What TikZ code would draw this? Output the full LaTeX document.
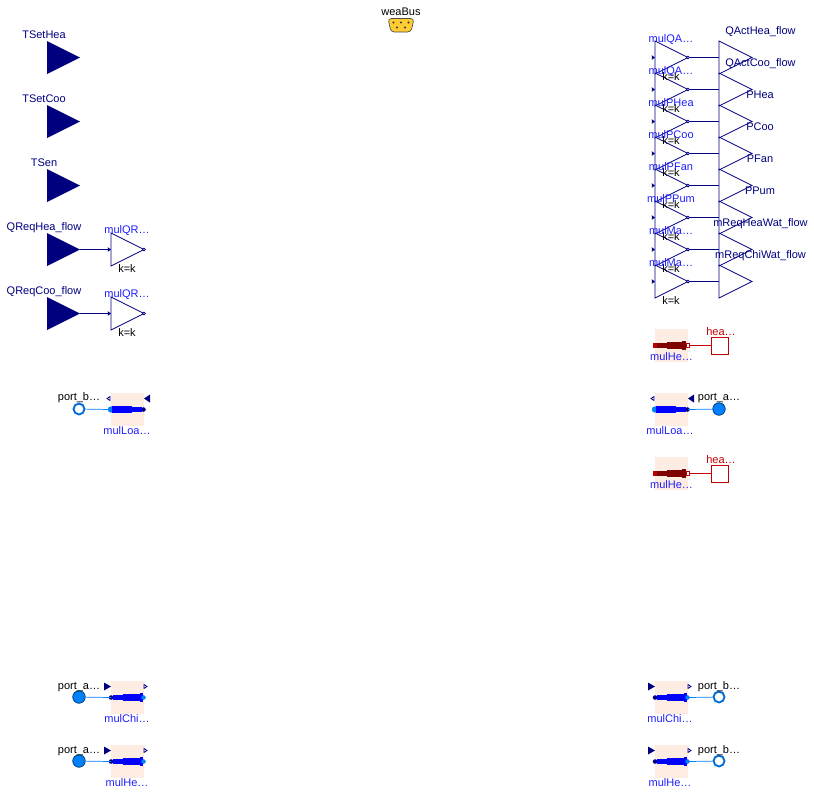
\documentclass[tikz,border=0pt]{standalone}
\usepackage{fontspec}
\setmainfont{Liberation Sans}
\usetikzlibrary{shapes}

\definecolor{sigNavy}{RGB}{0,0,127}
\definecolor{lblBlue}{RGB}{30,30,255}
\definecolor{fluidBlue}{RGB}{0,127,255}
\definecolor{tubeBlue}{RGB}{0,0,255}
\definecolor{heatRed}{RGB}{191,0,0}
\definecolor{tubeRed}{RGB}{127,0,0}
\definecolor{peach}{RGB}{253,236,226}
\definecolor{busYellow}{RGB}{255,204,51}

\tikzset{
  txt/.style={font=\fontsize{8.25}{10}\selectfont, inner sep=0pt, anchor=base},
  sigtxt/.style={txt, text=sigNavy},
  multxt/.style={txt, text=lblBlue},
  heatxt/.style={txt, text=heatRed},
  sigline/.style={draw=sigNavy, line width=0.55pt},
  tri/.style={isosceles triangle, isosceles triangle stretches, inner sep=0pt, outer sep=0pt, minimum width=24.75pt, minimum height=24.75pt, anchor=west},
  conin/.style={tri, fill=sigNavy},
  gain/.style={tri, sigline},
  intip/.style={isosceles triangle, isosceles triangle stretches, inner sep=0pt, outer sep=0pt, minimum width=3.4pt, minimum height=2.4pt, fill=sigNavy, anchor=east},
  outtip/.style={circle, sigline, fill=white, inner sep=0pt, minimum size=2.2pt, anchor=center},
  porta/.style={circle, draw=black!60!fluidBlue, line width=0.5pt, fill=fluidBlue, inner sep=0pt, minimum size=9.4pt},
  portb/.style={circle, draw=fluidBlue!85!black, line width=1.4pt, fill=white, inner sep=0pt, minimum size=8.2pt},
  heatport/.style={rectangle, draw=heatRed, line width=0.55pt, fill=white, inner sep=0pt, minimum size=12.75pt},
  fluidline/.style={draw=fluidBlue, line width=0.55pt},
  heatline/.style={draw=heatRed, line width=0.55pt},
  pics/tubeLoa/.style={code={
    \fill[peach] (0,-16.5) rectangle (33,16.5);
    \fill[fluidBlue] (0,0) circle[radius=2.4pt];
    \fill[sigNavy] (32.5,0) circle[radius=1.7pt];
    \fill[tubeBlue] (1,-3.5) rectangle (21,3.5);
    \fill[tubeBlue] (21,-2.2) rectangle (30.5,2.2);
    \draw[sigline, fill=white] (-4,-11) -- (-1,-9) -- (-1,-13) -- cycle;
    \fill[sigNavy] (33,-11) -- (39,-15) -- (39,-7) -- cycle;
    \coordinate (-a) at (0,0);
    \coordinate (-b) at (33,0);
  }},
  pics/tubeHex/.style={code={
    \fill[peach] (0,-16.5) rectangle (33,16.5);
    \fill[sigNavy] (0,0) circle[radius=1.7pt];
    \fill[tubeBlue] (2,-2.2) rectangle (12,2.2);
    \fill[tubeBlue] (12,-3.2) rectangle (29,3.2);
    \fill[tubeBlue] (29,-4.5) rectangle (32,4.5);
    \fill[fluidBlue] (32.5,0) circle[radius=1.7pt];
    \fill[sigNavy] (-7,-15) -- (0,-11) -- (-7,-7) -- cycle;
    \draw[sigline, fill=white] (36,-11) -- (33,-9) -- (33,-13) -- cycle;
    \coordinate (-a) at (0,0);
    \coordinate (-b) at (33,0);
  }},
  pics/tubeHeat/.style={code={
    \fill[peach] (0,-16.5) rectangle (33,16.5);
    \fill[heatRed] (-2,-2.5) rectangle (2,2.5);
    \fill[tubeRed] (2,-2.1) rectangle (12,2.1);
    \fill[tubeRed] (12,-3.2) rectangle (27,3.2);
    \fill[tubeRed] (27,-4.5) rectangle (31,4.5);
    \draw[heatRed, fill=white, line width=0.55pt] (31,-1.8) rectangle (34.5,1.8);
    \coordinate (-b) at (34.5,0);
  }},
}

\begin{document}
\begin{tikzpicture}[x=0.75pt, y=-0.75pt]
      \useasboundingbox (0,0) rectangle (814,793);

      % Bus
      \node[txt] (weaBusTxt) at (401,15) {weaBus};
      \draw[black!70, fill=busYellow, line width=0.5pt, rounded corners=2.5pt] (388,18.5) -- (414,18.5) -- (411,32) -- (391,32) -- cycle;
      \fill[black!80] (393.5,22.5) circle[radius=0.85pt] (401,22.5) circle[radius=0.85pt] (408.5,22.5) circle[radius=0.85pt] (397,27.5) circle[radius=0.85pt] (405,27.5) circle[radius=0.85pt];

      % Inputs
      \node[conin] (TSetHea) at (47,57.5) {};
      \node[conin] (TSetCoo) at (47,121.5) {};
      \node[conin] (TSen) at (47,185.5) {};
      \node[conin] (QReqHea) at (47,249.5) {};
      \node[conin] (QReqCoo) at (47,313.5) {};
      \node[sigtxt] (TSetHeaTxt) at (44,38) {TSetHea};
      \node[sigtxt] (TSetCooTxt) at (44,102) {TSetCoo};
      \node[sigtxt] (TSenTxt) at (44,166) {TSen};
      \node[sigtxt] (QReqHeaTxt) at (44,230.5) {QReqHea\_flow};
      \node[sigtxt] (QReqCooTxt) at (44,294) {QReqCoo\_flow};

      % Left gains
      \node[gain] (mulQReqHea) at (111,249.5) {};
      \node[gain] (mulQReqCoo) at (111,313.5) {};
      \node[intip] (inQReqHea) at (mulQReqHea.west) {};
      \node[intip] (inQReqCoo) at (mulQReqCoo.west) {};
      \node[outtip] (outQReqHea) at (mulQReqHea.east) {};
      \node[outtip] (outQReqCoo) at (mulQReqCoo.east) {};
      \draw[sigline] (QReqHea.east) -- (inQReqHea.west);
      \draw[sigline] (QReqCoo.east) -- (inQReqCoo.west);
      \node[multxt] (mulQReqHeaTxt) at (127,233) {mulQR…};
      \node[multxt] (mulQReqCooTxt) at (127,297) {mulQR…};
      \node[txt] (kQReqHea) at (127,272) {k=k};
      \node[txt] (kQReqCoo) at (127,336) {k=k};

      % Right outputs
      \node[gain] (QActHea) at (719,57.5) {};
      \node[gain] (QActCoo) at (719,89.5) {};
      \node[gain] (PHea) at (719,121.5) {};
      \node[gain] (PCoo) at (719,153.5) {};
      \node[gain] (PFan) at (719,185.5) {};
      \node[gain] (PPum) at (719,217.5) {};
      \node[gain] (mReqHeaWat) at (719,249.5) {};
      \node[gain] (mReqChiWat) at (719,281.5) {};

      % Right gains
      \node[gain] (mulQActHea) at (655,57.5) {};
      \node[gain] (mulQActCoo) at (655,89.5) {};
      \node[gain] (mulPHea) at (655,121.5) {};
      \node[gain] (mulPCoo) at (655,153.5) {};
      \node[gain] (mulPFan) at (655,185.5) {};
      \node[gain] (mulPPum) at (655,217.5) {};
      \node[gain] (mulMHea) at (655,249.5) {};
      \node[gain] (mulMChi) at (655,281.5) {};
      \node[intip] (inQActHea) at (mulQActHea.west) {};
      \node[intip] (inQActCoo) at (mulQActCoo.west) {};
      \node[intip] (inPHea) at (mulPHea.west) {};
      \node[intip] (inPCoo) at (mulPCoo.west) {};
      \node[intip] (inPFan) at (mulPFan.west) {};
      \node[intip] (inPPum) at (mulPPum.west) {};
      \node[intip] (inMHea) at (mulMHea.west) {};
      \node[intip] (inMChi) at (mulMChi.west) {};
      \draw[sigline] (mulQActHea.east) -- (QActHea.west);
      \draw[sigline] (mulQActCoo.east) -- (QActCoo.west);
      \draw[sigline] (mulPHea.east) -- (PHea.west);
      \draw[sigline] (mulPCoo.east) -- (PCoo.west);
      \draw[sigline] (mulPFan.east) -- (PFan.west);
      \draw[sigline] (mulPPum.east) -- (PPum.west);
      \draw[sigline] (mulMHea.east) -- (mReqHeaWat.west);
      \draw[sigline] (mulMChi.east) -- (mReqChiWat.west);
      \node[outtip] (outQActHea) at (mulQActHea.east) {};
      \node[outtip] (outQActCoo) at (mulQActCoo.east) {};
      \node[outtip] (outPHea) at (mulPHea.east) {};
      \node[outtip] (outPCoo) at (mulPCoo.east) {};
      \node[outtip] (outPFan) at (mulPFan.east) {};
      \node[outtip] (outPPum) at (mulPPum.east) {};
      \node[outtip] (outMHea) at (mulMHea.east) {};
      \node[outtip] (outMChi) at (mulMChi.east) {};

      \node[txt] (kQActHea) at (671,80) {k=k};
      \node[txt] (kQActCoo) at (671,112) {k=k};
      \node[txt] (kPHea) at (671,144) {k=k};
      \node[txt] (kPCoo) at (671,176) {k=k};
      \node[txt] (kPFan) at (671,208) {k=k};
      \node[txt] (kPPum) at (671,240) {k=k};
      \node[txt] (kMHea) at (671,272) {k=k};
      \node[txt] (kMChi) at (671,304) {k=k};
      \node[multxt] (mulQActHeaTxt) at (671,42) {mulQA…};
      \node[multxt] (mulQActCooTxt) at (671,74) {mulQA…};
      \node[multxt] (mulPHeaTxt) at (671,106) {mulPHea};
      \node[multxt] (mulPCooTxt) at (671,138) {mulPCoo};
      \node[multxt] (mulPFanTxt) at (671,170) {mulPFan};
      \node[multxt] (mulPPumTxt) at (671,202) {mulPPum};
      \node[multxt] (mulMHeaTxt) at (671,234) {mulMa…};
      \node[multxt] (mulMChiTxt) at (671,266) {mulMa…};
      \node[sigtxt] (QActHeaTxt) at (760.5,34) {QActHea\_flow};
      \node[sigtxt] (QActCooTxt) at (760.5,66) {QActCoo\_flow};
      \node[sigtxt] (PHeaTxt) at (760,98) {PHea};
      \node[sigtxt] (PCooTxt) at (760,130) {PCoo};
      \node[sigtxt] (PFanTxt) at (760,162) {PFan};
      \node[sigtxt] (PPumTxt) at (760,194) {PPum};
      \node[sigtxt] (mReqHeaWatTxt) at (760.5,226) {mReqHeaWat\_flow};
      \node[sigtxt] (mReqChiWatTxt) at (760.5,258) {mReqChiWat\_flow};

      % Fluid ports, left
      \pic (mulLoaL) at (111,409.5) {tubeLoa};
      \pic (mulChiL) at (111,697.5) {tubeHex};
      \pic (mulHeL) at (111,761.5) {tubeHex};
      \node[portb] (portBLoa) at (79,409) {};
      \node[porta] (portAChi) at (79,697) {};
      \node[porta] (portAHe) at (79,761) {};
      \draw[fluidline] (portBLoa) -- (mulLoaL-a);
      \draw[fluidline] (portAChi) -- (mulChiL-a);
      \draw[fluidline] (portAHe) -- (mulHeL-a);
      \node[txt] (portBLoaTxt) at (79,400) {port\_b…};
      \node[txt] (portAChiTxt) at (79,689) {port\_a…};
      \node[txt] (portAHeTxt) at (79,753) {port\_a…};
      \node[multxt] (mulLoaLTxt) at (127,434) {mulLoa…};
      \node[multxt] (mulChiLTxt) at (127,722) {mulChi…};
      \node[multxt] (mulHeLTxt) at (127,786) {mulHe…};

      % Fluid ports, right
      \pic (mulLoaR) at (655,409.5) {tubeLoa};
      \pic (mulChiR) at (655,697.5) {tubeHex};
      \pic (mulHeR) at (655,761.5) {tubeHex};
      \node[porta] (portALoa) at (719,409) {};
      \node[portb] (portBChi) at (719,697) {};
      \node[portb] (portBHe) at (719,761) {};
      \draw[fluidline] (mulLoaR-b) -- (portALoa);
      \draw[fluidline] (mulChiR-b) -- (portBChi);
      \draw[fluidline] (mulHeR-b) -- (portBHe);
      \node[txt] (portALoaTxt) at (719,400) {port\_a…};
      \node[txt] (portBChiTxt) at (719,689) {port\_b…};
      \node[txt] (portBHeTxt) at (719,753) {port\_b…};
      \node[multxt] (mulLoaRTxt) at (670,434) {mulLoa…};
      \node[multxt] (mulChiRTxt) at (670,722) {mulChi…};
      \node[multxt] (mulHeRTxt) at (670,786) {mulHe…};

      % Heat ports
      \pic (mulHeaA) at (655,345.5) {tubeHeat};
      \pic (mulHeaB) at (655,473.5) {tubeHeat};
      \node[heatport] (heaA) at (719.5,345.5) {};
      \node[heatport] (heaB) at (719.5,473.5) {};
      \draw[heatline] (mulHeaA-b) -- (heaA);
      \draw[heatline] (mulHeaB-b) -- (heaB);
      \node[heatxt] (heaATxt) at (721,335) {hea…};
      \node[heatxt] (heaBTxt) at (721,463) {hea…};
      \node[multxt] (mulHeaATxt) at (671.5,360) {mulHe…};
      \node[multxt] (mulHeaBTxt) at (671.5,488) {mulHe…};
\end{tikzpicture}
\end{document}
